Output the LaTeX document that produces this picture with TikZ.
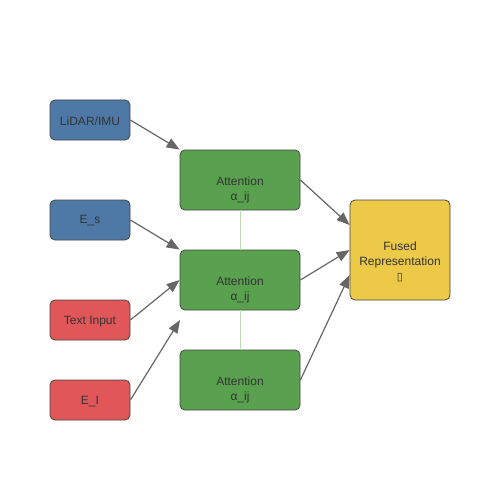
\documentclass[tikz,border=0pt]{standalone}
\usepackage{fontspec}
\setmainfont{Liberation Sans}
\newfontfamily\symfont{DejaVu Sans}
\usetikzlibrary{arrows.meta}
\definecolor{cblue}{HTML}{4E79A7}
\definecolor{cred}{HTML}{E15759}
\definecolor{cgreen}{HTML}{59A14F}
\definecolor{cyellow}{HTML}{EDC948}
\definecolor{cborder}{HTML}{444444}
\definecolor{carrow}{HTML}{666666}
\definecolor{ctext}{HTML}{333333}
\definecolor{clink}{HTML}{B8DDB0}
\tikzset{
  box/.style={draw=cborder, line width=0.8pt, rounded corners=5pt, inner sep=0pt},
  lbl/.style={text=ctext, align=center, inner sep=0pt, font=\fontsize{12}{15}\selectfont},
  inbox/.style={box, minimum width=80pt, minimum height=40pt},
  attbox/.style={box, fill=cgreen, minimum width=120pt, minimum height=60pt},
  fusebox/.style={box, fill=cyellow, minimum width=100pt, minimum height=100pt},
  arr/.style={draw=carrow, line width=1.2pt, -{Triangle[length=13pt,width=10pt]}},
  vlink/.style={draw=clink, line width=1pt}
}
\begin{document}
\begin{tikzpicture}[x=1pt,y=-1pt]
\useasboundingbox (0,0) rectangle (500,500);
\node[inbox, fill=cblue, label={[lbl,yshift=-1pt]center:LiDAR/IMU}] (lidar) at (90,120) {};
\node[inbox, fill=cblue, label={[lbl,yshift=-1pt]center:E\_s}] (es) at (90,220) {};
\node[inbox, fill=cred, label={[lbl,yshift=-1.5pt]center:Text Input}] (text) at (90,320) {};
\node[inbox, fill=cred, label={[lbl,yshift=-1.5pt]center:E\_I}] (ei) at (90,400) {};
\node[attbox, label={[lbl,yshift=-10pt]center:Attention\\α\_ij}] (a1) at (240,180) {};
\node[attbox, label={[lbl,yshift=-10pt]center:Attention\\α\_ij}] (a2) at (240,280) {};
\node[attbox, label={[lbl,yshift=-10pt]center:Attention\\α\_ij}] (a3) at (240,380) {};
\node[fusebox, label={[lbl,yshift=-12pt]center:Fused\\Representation\\{\symfont\fontsize{11}{13}\selectfont ▯}}] (fused) at (400,250) {};
\coordinate (free) at (180,320);
\draw[vlink] (a1.south) -- (a2.north);
\draw[vlink] (a2.south) -- (a3.north);
\draw[arr] (lidar.east) -- (a1.north west);
\draw[arr] (es.east) -- (a2.north west);
\draw[arr] (text.east) -- (a2.west);
\draw[arr] (ei.east) -- (free);
\draw[arr] (a1.east) -- ([yshift=25pt]fused.west);
\draw[arr] (a2.east) -- (fused.west);
\draw[arr] (a3.east) -- ([yshift=-25pt]fused.west);
\end{tikzpicture}
\end{document}
